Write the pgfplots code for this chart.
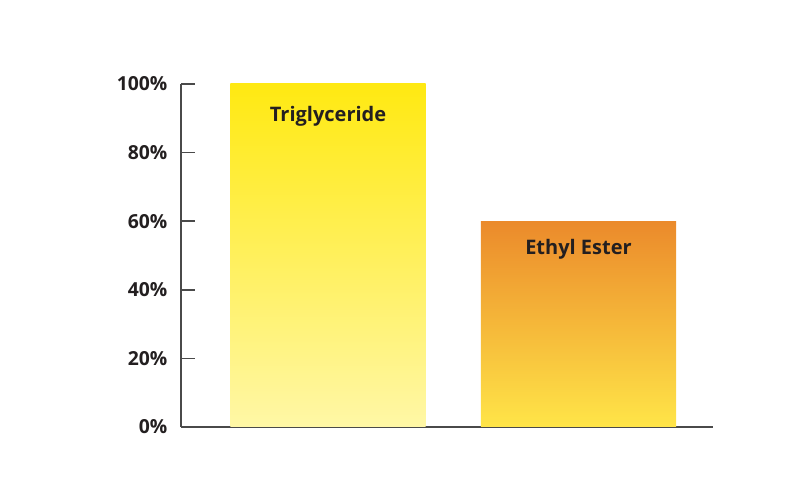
\documentclass[border=0pt]{standalone}
\usepackage{pgfplots}
\pgfplotsset{compat=1.18}
\usepackage{fontspec}
\setmainfont{Open Sans}
\definecolor{axisgray}{HTML}{4A4A4A}
\definecolor{txt}{HTML}{231F20}
\definecolor{tgtop}{HTML}{FFE912}
\definecolor{tgbot}{HTML}{FFF7A6}
\definecolor{eetop}{HTML}{EB8A2B}
\definecolor{eebot}{HTML}{FFE548}
\begin{document}
\begin{tikzpicture}
\path[use as bounding box] (0,0) rectangle (600pt,375pt);
\begin{axis}[
  at={(135.75pt,54.75pt)}, anchor=south west,
  scale only axis,
  width=399pt, height=257.25pt,
  xmin=-0.587, xmax=1.537,
  ymin=0, ymax=100,
  axis x line=bottom, axis y line=left,
  axis line style={-, axisgray, line width=1.1pt},
  xtick=\empty,
  ytick={0,20,40,60,80,100},
  yticklabels={0\%,20\%,40\%,60\%,80\%,100\%},
  y tick style={axisgray, line width=1.1pt},
  major tick length=10.5pt,
  tick align=inside,
  yticklabel style={font=\bfseries\fontsize{14.5}{16}\selectfont, text=txt, inner sep=0pt, xshift=-10pt},
  bar width=0.78,
  clip=false,
]
\addplot[ybar, draw=none, top color=tgtop, bottom color=tgbot] coordinates {(0,100)};
\addplot[ybar, draw=none, top color=eetop, bottom color=eebot] coordinates {(1,60)};
\node[font=\bfseries\fontsize{15}{18}\selectfont, text=txt] at (axis cs:0,90.7) {Triglyceride};
\node[font=\bfseries\fontsize{15}{18}\selectfont, text=txt] at (axis cs:1,51.9) {Ethyl Ester};
\end{axis}
\end{tikzpicture}
\end{document}
